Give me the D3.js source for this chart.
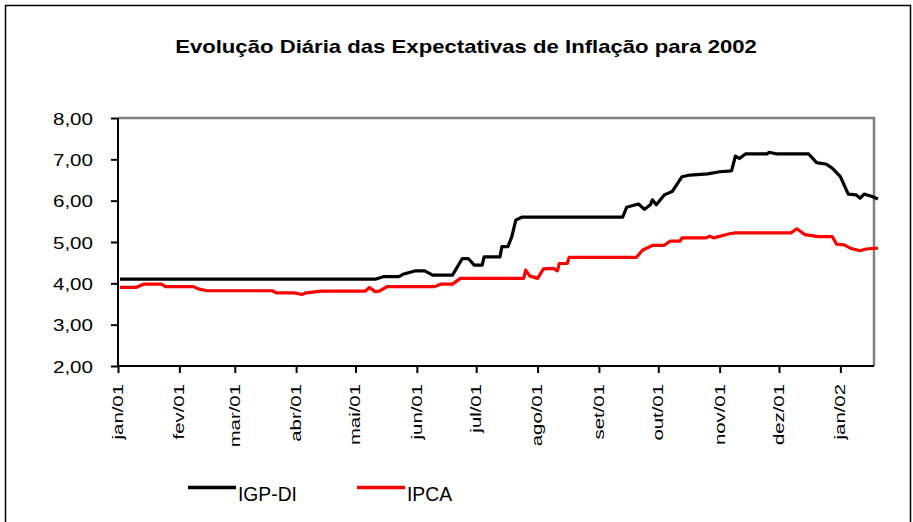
<!DOCTYPE html>
<html>
<head>
	<meta charset="utf-8">
	<title> expectativas de inflação </title>
	<script src="https://d3js.org/d3.v7.min.js"></script>
	<style>
		body { margin: 0; background: #fff; }
		text { font-family: Arial, "Liberation Sans", sans-serif; fill: #000; }
	</style>
</head>
<body>
	<svg width="913" height="522"></svg>
	<script type="text/javascript">
		// IGP-DI: datas de mudança e valores
		let igpDates = ["2001-01-02","2001-05-11","2001-05-15","2001-05-23","2001-05-25","2001-05-31","2001-06-05",
			"2001-06-09","2001-06-19","2001-06-24","2001-06-27","2001-06-30","2001-07-04","2001-07-05","2001-07-13",
			"2001-07-14","2001-07-17","2001-07-19","2001-07-21","2001-07-24","2001-09-13","2001-09-15","2001-09-21",
			"2001-09-24","2001-09-27","2001-09-28","2001-09-30","2001-10-04","2001-10-08","2001-10-13","2001-10-17",
			"2001-10-26","2001-11-01","2001-11-07","2001-11-09","2001-11-11","2001-11-14","2001-11-25","2001-11-26",
			"2001-11-30","2001-12-16","2001-12-20","2001-12-25","2001-12-28","2002-01-01","2002-01-05","2002-01-09",
			"2002-01-11","2002-01-13","2002-01-17","2002-01-20"];
		let igpValues = [4.10,4.10,4.16,4.16,4.22,4.30,4.30,
			4.20,4.20,4.60,4.60,4.44,4.44,4.64,4.64,
			4.89,4.89,5.13,5.53,5.60,5.60,5.84,5.92,
			5.79,5.90,6.02,5.90,6.14,6.22,6.58,6.62,
			6.65,6.70,6.72,7.08,7.02,7.13,7.13,7.17,
			7.13,7.13,6.92,6.88,6.78,6.58,6.16,6.14,
			6.06,6.16,6.10,6.04];
		// IPCA
		let ipcaDates = ["2001-01-02","2001-01-10","2001-01-14","2001-01-23","2001-01-25","2001-02-08","2001-02-11",
			"2001-02-15","2001-03-20","2001-03-22","2001-03-31","2001-04-04","2001-04-06","2001-04-14","2001-05-06",
			"2001-05-08","2001-05-11","2001-05-13","2001-05-17","2001-06-10","2001-06-13","2001-06-19","2001-06-23",
			"2001-07-25","2001-07-26","2001-07-28","2001-08-01","2001-08-04","2001-08-09","2001-08-11","2001-08-12",
			"2001-08-16","2001-08-17","2001-09-20","2001-09-23","2001-09-28","2001-10-04","2001-10-07","2001-10-12",
			"2001-10-13","2001-10-25","2001-10-27","2001-10-29","2001-11-06","2001-11-09","2001-12-07","2001-12-10",
			"2001-12-14","2001-12-21","2001-12-28","2001-12-30","2002-01-03","2002-01-06","2002-01-11","2002-01-14",
			"2002-01-20"];
		let ipcaValues = [3.90,3.90,3.98,3.98,3.92,3.92,3.86,
			3.82,3.82,3.77,3.77,3.73,3.77,3.81,3.81,
			3.90,3.80,3.81,3.92,3.92,3.98,3.98,4.12,
			4.12,4.32,4.18,4.12,4.35,4.36,4.30,4.48,
			4.48,4.63,4.63,4.80,4.92,4.92,5.02,5.02,
			5.10,5.10,5.14,5.10,5.20,5.22,5.22,5.32,
			5.18,5.13,5.13,4.95,4.93,4.85,4.79,4.83,
			4.85];
		let monthLabels = ["jan/01","fev/01","mar/01","abr/01","mai/01","jun/01","jul/01",
			"ago/01","set/01","out/01","nov/01","dez/01","jan/02"];
		let yTicks = [2,3,4,5,6,7,8];
		let seriesNames = ["IGP-DI","IPCA"];
		let seriesColors = ["#000000","#ff0000"];

		let svg = d3.select("svg");
		let parse = d3.timeParse("%Y-%m-%d");
		let br = d3.formatLocale({decimal: ",", thousands: ".", grouping: [3], currency: ["R$", ""]});
		let fmt = br.format(".2f");

		let pLeft = 118, pRight = 874, pTop = 118, pBottom = 366;
		let x = d3.scaleTime().domain([new Date(2001, 0, 1), new Date(2002, 0, 18)]).range([pLeft, pRight]);
		let y = d3.scaleLinear().domain([2, 8]).range([pBottom, pTop]);

		// moldura externa
		svg.append("rect").attr("x", 5.5).attr("y", 5.5).attr("width", 905).attr("height", 560)
			.attr("fill", "none").attr("stroke", "#000").attr("stroke-width", 1.5);

		// título
		svg.append("text")
			.attr("transform", "translate(466,53) scale(1.19,1)")
			.attr("text-anchor", "middle")
			.style("font-size", "18.6px").style("font-weight", "bold")
			.text("Evolução Diária das Expectativas de Inflação para 2002");

		// borda cinza da área do gráfico
		svg.append("path")
			.attr("d", "M" + pLeft + "," + pTop + "H" + pRight + "V" + pBottom)
			.attr("fill", "none").attr("stroke", "#808080").attr("stroke-width", 2.5);

		// eixo y
		let yAxis = svg.append("g").attr("transform", "translate(" + pLeft + ",0)")
			.call(d3.axisLeft(y).tickValues(yTicks).tickSize(7).tickFormat(""));
		yAxis.select(".domain").attr("stroke-width", 2).attr("d", "M0," + pTop + "V" + pBottom);
		yAxis.selectAll(".tick line").attr("stroke-width", 2);
		svg.selectAll(".ylab").data(yTicks).join("text")
			.attr("class", "ylab")
			.attr("transform", d => "translate(93," + (y(d) + 6.5) + ") scale(1.19,1)")
			.attr("text-anchor", "end")
			.style("font-size", "17.3px")
			.text(d => fmt(d));

		// eixo x
		let monthTicks = d3.timeMonth.range(new Date(2001, 0, 1), new Date(2002, 0, 2));
		let xAxis = svg.append("g").attr("transform", "translate(0," + pBottom + ")")
			.call(d3.axisBottom(x).tickValues(monthTicks).tickSize(7).tickFormat(""));
		xAxis.select(".domain").attr("stroke-width", 2).attr("d", "M" + pLeft + ",0H" + pRight);
		xAxis.selectAll(".tick line").attr("stroke-width", 2);
		svg.selectAll(".xlab").data(monthTicks).join("text")
			.attr("class", "xlab")
			.attr("transform", d => "translate(" + x(d) + ",384) rotate(-90) scale(1.33,1)")
			.attr("text-anchor", "end")
			.attr("dy", "0.32em")
			.style("font-size", "15.3px")
			.text((d, i) => monthLabels[i]);

		// linhas
		let line = d3.line().x(d => x(d[0])).y(d => y(d[1]));
		let series = [
			igpDates.map((d, i) => [parse(d), igpValues[i]]),
			ipcaDates.map((d, i) => [parse(d), ipcaValues[i]])
		];
		svg.selectAll(".serie").data(series).join("path")
			.attr("class", "serie")
			.attr("fill", "none")
			.attr("stroke", (d, i) => seriesColors[i])
			.attr("stroke-width", 3.2)
			.attr("stroke-linejoin", "round")
			.attr("d", line);

		// legenda
		let legendX = [188, 357];
		let leg = svg.selectAll(".leg").data(seriesNames).join("g")
			.attr("class", "leg")
			.attr("transform", (d, i) => "translate(" + legendX[i] + ",487.5)");
		leg.append("line").attr("x1", 0).attr("x2", 48).attr("y1", 0).attr("y2", 0)
			.attr("stroke", (d, i) => seriesColors[i]).attr("stroke-width", 3.5);
		leg.append("text").attr("x", 50).attr("y", 13.5)
			.style("font-size", "19.3px")
			.text(d => d);
	</script>
</body>
</html>
